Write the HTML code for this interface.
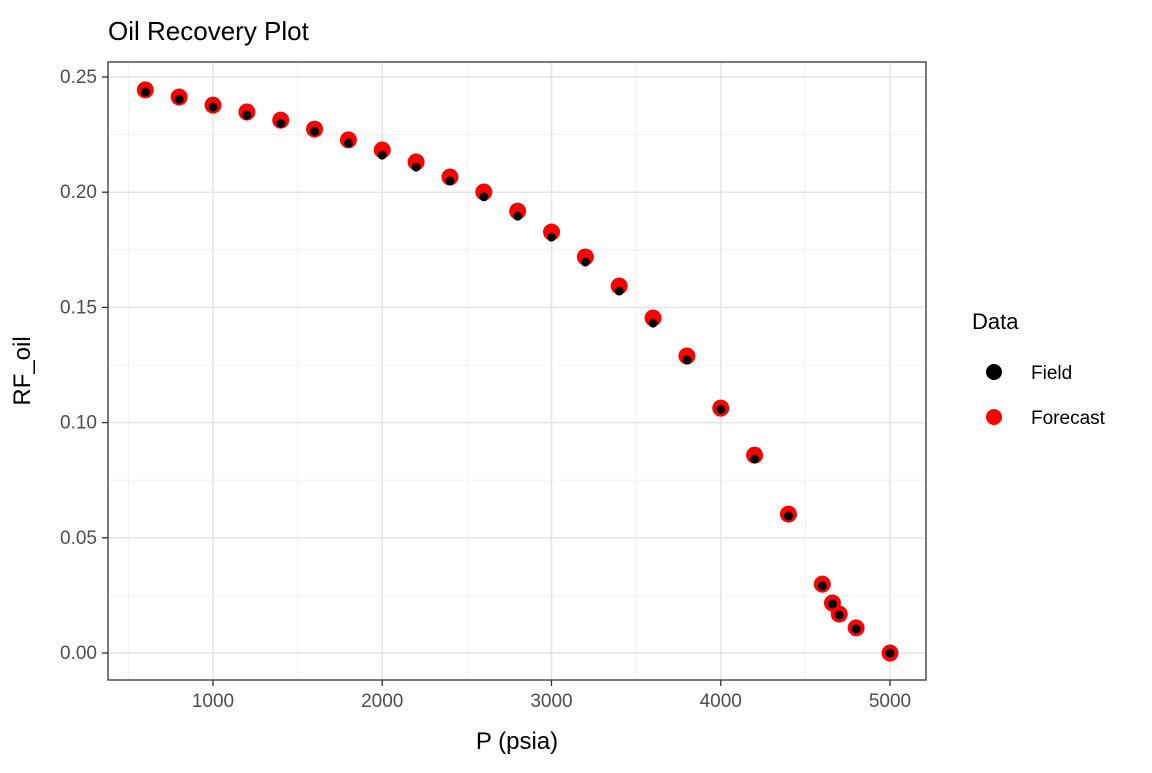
<!DOCTYPE html>
<html><head><meta charset="utf-8"><style>
body{margin:0;background:#fff;font-family:"Liberation Sans",Arial,sans-serif}
svg text{font-family:"Liberation Sans",Arial,sans-serif}
</style></head><body>
<svg id="chart" width="1152" height="768">
<text x="108" y="40" font-size="26" fill="#000">Oil Recovery Plot</text>
<g id="grid"></g><g id="axes"></g><g id="marks"></g>
<rect x="108" y="62" width="818" height="618" fill="none" stroke="#333" stroke-width="1.3"/>
<text x="517" y="749" font-size="24" text-anchor="middle" fill="#000">P (psia)</text>
<text x="30" y="371" font-size="24" text-anchor="middle" fill="#000" transform="rotate(-90 30 371)">RF_oil</text>
<g>
<text x="972" y="329" font-size="22">Data</text>
<circle cx="994" cy="372" r="8" fill="#000"/>
<text x="1031" y="379" font-size="19">Field</text>
<circle cx="994" cy="417" r="8" fill="#ff0000"/>
<text x="1031" y="424" font-size="19">Forecast</text>
</g>
</svg>
<script>
const pressure=[600,800,1000,1200,1400,1600,1800,2000,2200,2400,2600,2800,3000,3200,3400,3600,3800,4000,4200,4400,4600,4660,4700,4800,5000];
const forecastRF=[0.2444,0.2413,0.2378,0.2348,0.2313,0.2274,0.2227,0.2183,0.2131,0.2066,0.2001,0.1918,0.1827,0.1719,0.1593,0.1454,0.1289,0.1063,0.0859,0.0603,0.0299,0.0217,0.0169,0.0109,0.0];
const fieldRF=[0.2435,0.2404,0.2370,0.2335,0.2300,0.2265,0.2214,0.2161,0.2109,0.2049,0.1980,0.1896,0.1805,0.1697,0.1571,0.1432,0.1272,0.1058,0.0842,0.0595,0.0291,0.0213,0.0165,0.0105,0.0];
const xTicks=[1000,2000,3000,4000,5000];
const yTicks=[0,0.05,0.10,0.15,0.20,0.25];
const yTickLabels=["0.00","0.05","0.10","0.15","0.20","0.25"];
const X=v=>213+(v-1000)*0.16925;
const Y=v=>653-v*2304;
const NS="http://www.w3.org/2000/svg";
function mk(parent,tag,attrs){const e=document.createElementNS(NS,tag);for(const k in attrs)e.setAttribute(k,attrs[k]);document.getElementById(parent).appendChild(e);return e;}
for(let v=500;v<=5000;v+=1000){const e=mk('grid','line',{x1:X(v),x2:X(v),y1:62,y2:680,stroke:'#f0f0f0','stroke-width':1});

}
for(let v=0.025;v<=0.25;v+=0.05){const e=mk('grid','line',{x1:108,x2:926,y1:Y(v),y2:Y(v),stroke:'#f0f0f0','stroke-width':1});

}
xTicks.forEach(v=>{const g=mk('grid','line',{x1:X(v),x2:X(v),y1:62,y2:680,stroke:'#e6e6e6','stroke-width':1.5});


const t=mk('axes','line',{x1:X(v),x2:X(v),y1:680,y2:686,stroke:'#333','stroke-width':1.3});


const l=mk('axes','text',{x:X(v),y:707,'font-size':19,'text-anchor':'middle',fill:'#4d4d4d'});l.textContent=v;

});
yTicks.forEach((v,i)=>{const g=mk('grid','line',{x1:108,x2:926,y1:Y(v),y2:Y(v),stroke:'#e6e6e6','stroke-width':1.5});


const t=mk('axes','line',{x1:102,x2:108,y1:Y(v),y2:Y(v),stroke:'#333','stroke-width':1.3});


const l=mk('axes','text',{x:97,y:Y(v)+6,'font-size':19,'text-anchor':'end',fill:'#4d4d4d'});l.textContent=yTickLabels[i];

});
pressure.forEach((p,i)=>{const c=mk('marks','circle',{cx:X(p),cy:Y(forecastRF[i]),r:8.5,fill:'#ff0000'});

});
pressure.forEach((p,i)=>{const c=mk('marks','circle',{cx:X(p),cy:Y(fieldRF[i]),r:4.5,fill:'#000'});

});
</script>
</body></html>
